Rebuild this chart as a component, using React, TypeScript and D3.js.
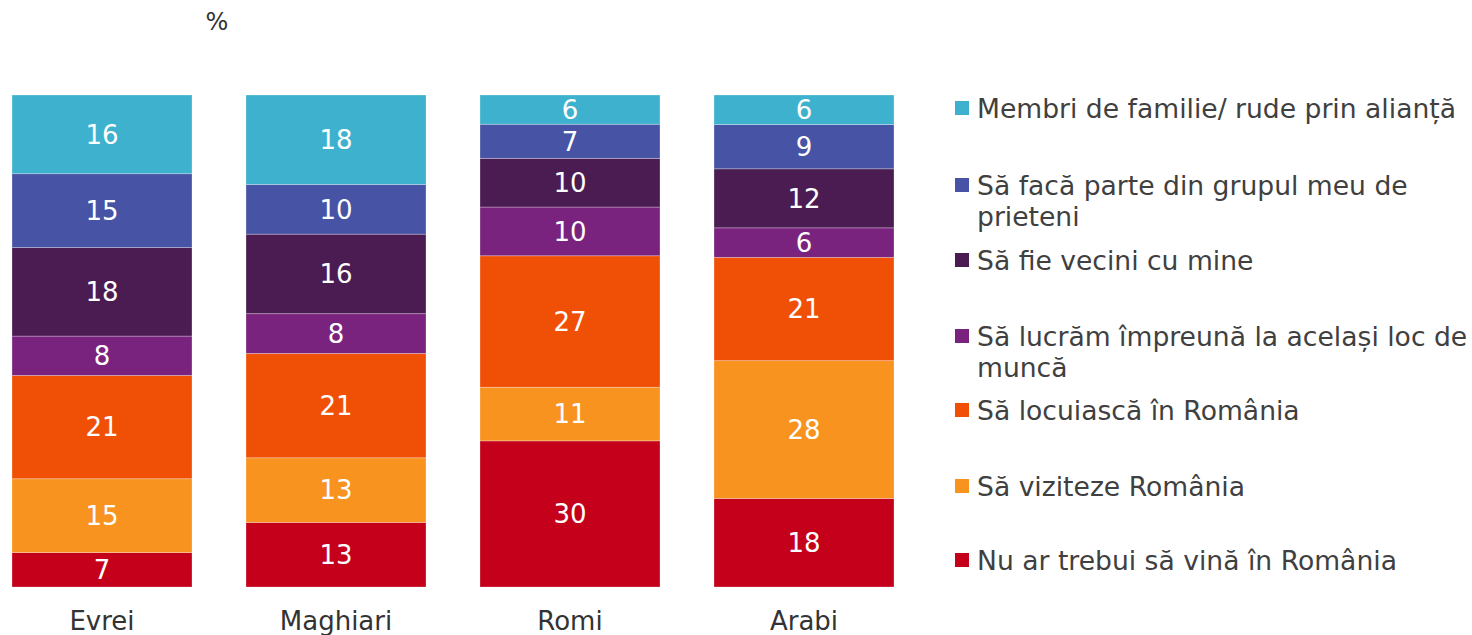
import React from "react";
import * as d3 from "d3";

const categories = ["Evrei", "Maghiari", "Romi", "Arabi"];
// series from bottom to top
const seriesNames = [
  "Nu ar trebui să vină în România",
  "Să viziteze România",
  "Să locuiască în România",
  "Să lucrăm împreună la același loc de muncă",
  "Să fie vecini cu mine",
  "Să facă parte din grupul meu de prieteni",
  "Membri de familie/ rude prin alianță",
];
const seriesColors = ["#C5001A", "#F7931E", "#F05006", "#7A237E", "#4B1C51", "#4753A5", "#3EB1CE"];
const nuAr = [7, 13, 30, 18];
const viziteze = [15, 13, 11, 28];
const locuiasca = [21, 21, 27, 21];
const lucram = [8, 8, 10, 6];
const vecini = [18, 16, 10, 12];
const prieteni = [15, 10, 7, 9];
const familie = [16, 18, 6, 6];
const seriesValues = [nuAr, viziteze, locuiasca, lucram, vecini, prieteni, familie];

// legend lines top to bottom
const legendLines: string[][] = [
  ["Membri de familie/ rude prin alianță"],
  ["Să facă parte din grupul meu de", "prieteni"],
  ["Să fie vecini cu mine"],
  ["Să lucrăm împreună la același loc de", "muncă"],
  ["Să locuiască în România"],
  ["Să viziteze România"],
  ["Nu ar trebui să vină în România"],
];

const W = 1472;
const H = 635;
const FONT = "'DejaVu Sans', Verdana, sans-serif";

export default function App() {
  const rows = categories.map((c, i) => {
    const r: any = { cat: c };
    seriesNames.forEach((s, k) => (r[s] = seriesValues[k][i]));
    return r;
  });
  const stack = d3.stack<any>().keys(seriesNames).offset(d3.stackOffsetExpand);
  const stacked = stack(rows);

  const xb = d3.scaleBand().domain(categories).range([-15, 921]).padding(0);
  const barW = 180;
  const y = d3.scaleLinear().domain([0, 1]).range([587, 95]);

  const legendY = [108, 185, 260, 336, 410, 486, 560];

  return (
    <svg width={W} height={H} style={{ position: "absolute", left: 0, top: 0, display: "block" }}>
      <rect width={W} height={H} fill="#fff" />
      <text x={217} y={30} fontFamily={FONT} fontSize={24} fill="#333" textAnchor="middle">%</text>
      {stacked.map((layer, k) => (
        <g key={k}>
          {layer.map((d, i) => {
            const cx = (xb(categories[i]) as number) + xb.bandwidth() / 2;
            const y0 = y(d[0]);
            const y1 = y(d[1]);
            return (
              <g key={i}>
                <rect x={cx - barW / 2} y={y1} width={barW} height={y0 - y1} fill={seriesColors[k]} stroke="#ffffff" strokeOpacity={0.35} strokeWidth={0.8} />
                <text x={cx} y={(y0 + y1) / 2} dy="0.36em" textAnchor="middle" fontFamily={FONT} fontSize={26} fill="#fff">
                  {seriesValues[k][i]}
                </text>
              </g>
            );
          })}
        </g>
      ))}
      {categories.map((c) => (
        <text key={c} x={(xb(c) as number) + xb.bandwidth() / 2} y={630} textAnchor="middle" fontFamily={FONT} fontSize={26} fill="#333">
          {c}
        </text>
      ))}
      {legendLines.map((lines, j) => {
        const k = seriesNames.length - 1 - j;
        const cy = legendY[j];
        return (
          <g key={j}>
            <rect x={955} y={cy - 7} width={14} height={14} fill={seriesColors[k]} />
            {lines.map((ln, li) => (
              <text key={li} x={977} y={cy + li * 31} dy="0.36em" fontFamily={FONT} fontSize={26.6} fill="#404040">
                {ln}
              </text>
            ))}
          </g>
        );
      })}
    </svg>
  );
}
